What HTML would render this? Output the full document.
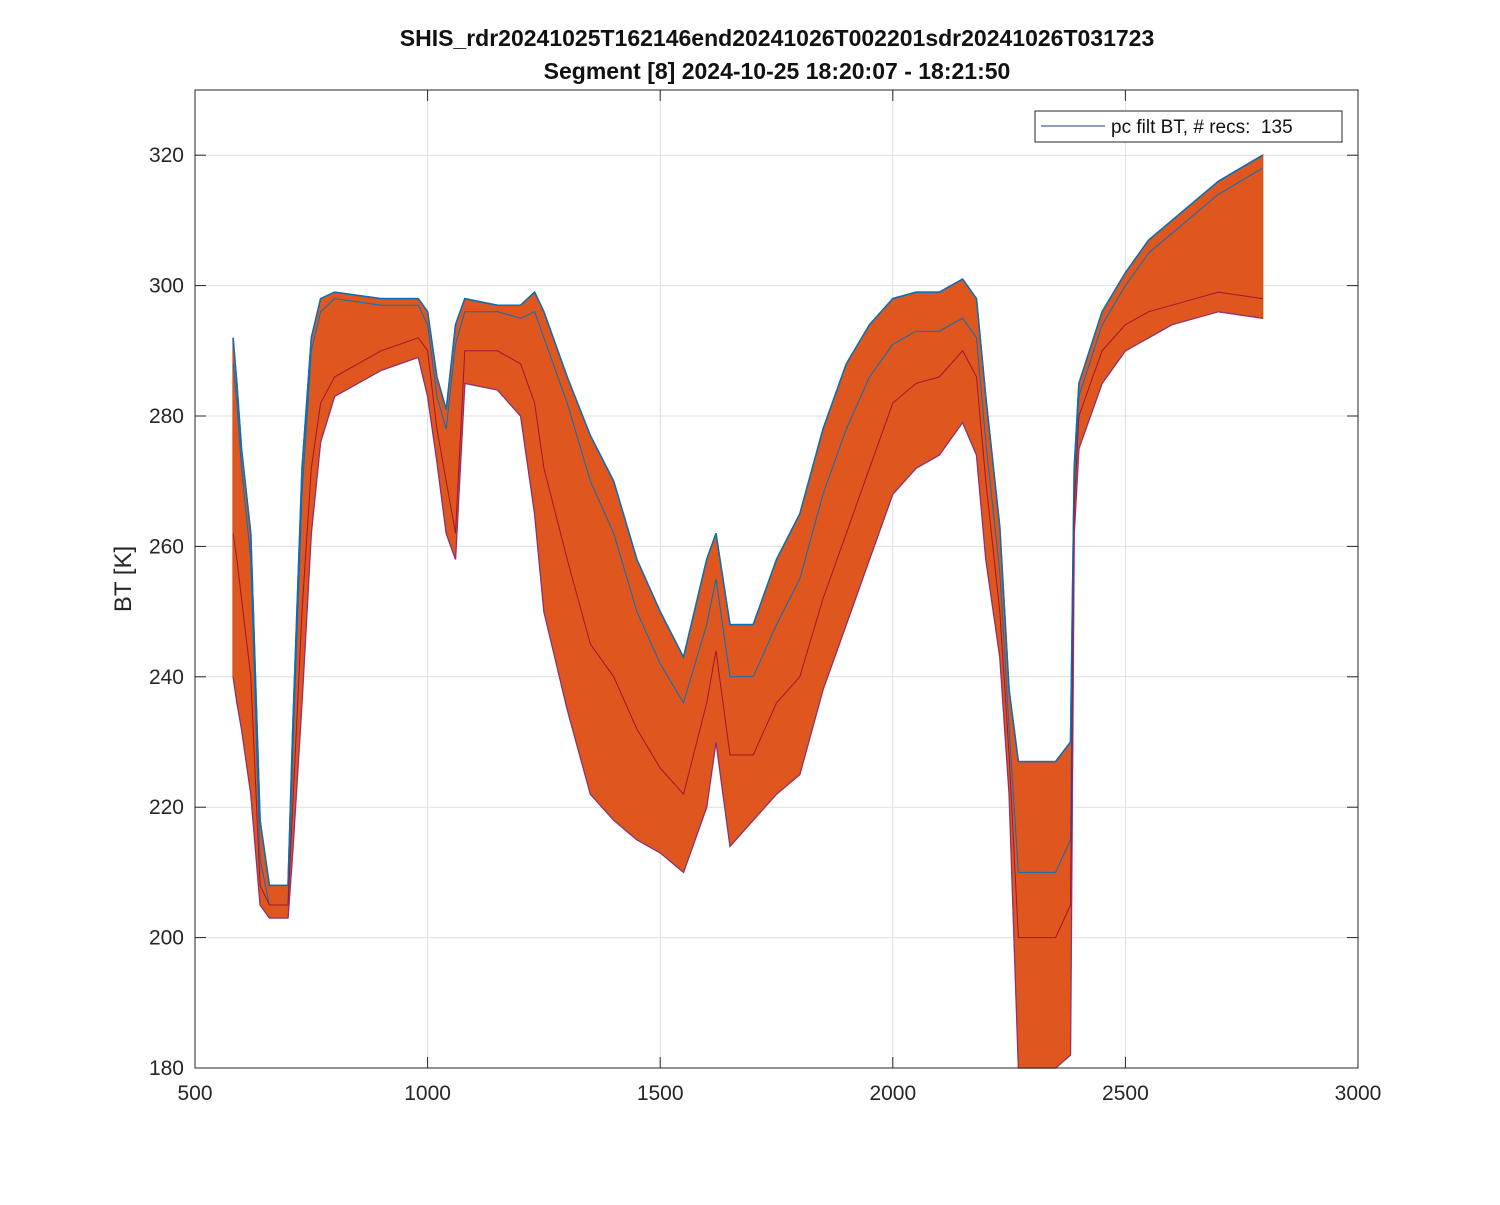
<!DOCTYPE html>
<html><head><meta charset="utf-8">
<style>
body{margin:0;background:#fff;width:1500px;height:1200px;overflow:hidden;font-family:"Liberation Sans",Arial,sans-serif}
svg text{font-family:"Liberation Sans",Arial,sans-serif}
</style></head>
<body>
<svg id="chart" width="1500" height="1200" xmlns="http://www.w3.org/2000/svg">
<rect width="1500" height="1200" fill="#fff"/>
<text x="777" y="46" text-anchor="middle" font-size="23" font-weight="bold" fill="#111">SHIS_rdr20241025T162146end20241026T002201sdr20241026T031723</text>
<text x="777" y="79" text-anchor="middle" font-size="23" font-weight="bold" fill="#111">Segment [8] 2024-10-25 18:20:07 - 18:21:50</text>
<g id="grid"></g>
<g id="marks"></g>
<rect x="195" y="90" width="1163" height="978" fill="none" stroke="#262626" stroke-width="1"/>
<g id="ticks"></g>
<text transform="translate(131,579) rotate(-90)" text-anchor="middle" font-size="24" fill="#262626">BT [K]</text>
<g>
<rect x="1035" y="111" width="307" height="31" fill="#fff" stroke="#262626" stroke-width="1"/>
<line x1="1041" y1="126" x2="1105" y2="126" stroke="#1f3a7a" stroke-width="1"/>
<text x="1111" y="133" font-size="19" fill="#111" xml:space="preserve">pc filt BT, # recs:  135</text>
</g>
</svg>
<script>
const xTicks=[500,1000,1500,2000,2500,3000];
const yTicks=[180,200,220,240,260,280,300,320];
const wavenumbers=[582,590,600,620,640,660,700,710,730,750,770,800,900,980,1000,1020,1040,1060,1080,1150,1200,1230,1250,1300,1350,1400,1450,1500,1550,1600,1620,1650,1700,1750,1800,1850,1900,1950,2000,2050,2100,2150,2180,2200,2230,2250,2270,2300,2350,2382,2390,2400,2450,2500,2550,2600,2700,2795];
const upperBT=[292,285,275,262,218,208,208,232,272,292,298,299,298,298,296,286,281,294,298,297,297,299,296,286,277,270,258,250,243,258,262,248,248,258,265,278,288,294,298,299,299,301,298,283,263,238,227,227,227,230,272,285,296,302,307,310,316,320];
const lowerBT=[240,236,232,222,205,203,203,213,236,262,276,283,287,289,283,273,262,258,285,284,280,265,250,235,222,218,215,213,210,220,230,214,218,222,225,238,248,258,268,272,274,279,274,258,243,222,180,180,180,182,262,275,285,290,292,294,296,295];
const blueBT=[288,282,272,258,212,205,205,228,268,290,296,298,297,297,294,283,278,291,296,296,295,296,292,282,270,262,250,242,236,248,255,240,240,248,255,268,278,286,291,293,293,295,292,276,256,232,210,210,210,215,270,283,294,300,305,308,314,318];
const redBT=[262,258,252,240,208,205,205,220,250,272,282,286,290,292,290,278,270,262,290,290,288,282,272,258,245,240,232,226,222,236,244,228,228,236,240,252,262,272,282,285,286,290,286,270,250,228,200,200,200,205,266,280,290,294,296,297,299,298];
const X=v=>195+(v-500)*(1163/2500);
const Y=v=>1068-(v-180)*(978/150);
const NS='http://www.w3.org/2000/svg';
const grid=document.getElementById('grid'),ticks=document.getElementById('ticks'),marks=document.getElementById('marks');
function mk(tag,attrs,parent){const e=document.createElementNS(NS,tag);for(const k in attrs)e.setAttribute(k,attrs[k]);parent.appendChild(e);return e;}
xTicks.forEach(t=>{
 const gl=mk('line',{x1:X(t),x2:X(t),y1:90,y2:1068,stroke:'#dfdfdf','stroke-width':1},grid);
 
 
 mk('line',{x1:X(t),x2:X(t),y1:1068,y2:1057,stroke:'#262626'},ticks);
 mk('line',{x1:X(t),x2:X(t),y1:90,y2:101,stroke:'#262626'},ticks);
 const tx=mk('text',{x:X(t),y:1100,'text-anchor':'middle','font-size':21,fill:'#262626'},ticks);
 tx.textContent=t;
 
 
});
yTicks.forEach(t=>{
 const gl=mk('line',{x1:195,x2:1358,y1:Y(t),y2:Y(t),stroke:'#dfdfdf','stroke-width':1},grid);
 
 
 mk('line',{x1:195,x2:206,y1:Y(t),y2:Y(t),stroke:'#262626'},ticks);
 mk('line',{x1:1358,x2:1347,y1:Y(t),y2:Y(t),stroke:'#262626'},ticks);
 const tx=mk('text',{x:184,y:Y(t)+7,'text-anchor':'end','font-size':21,fill:'#262626'},ticks);
 tx.textContent=t;
 
 
});
let d='';
wavenumbers.forEach((w,i)=>{d+=(i?'L':'M')+X(w).toFixed(1)+','+Y(upperBT[i]).toFixed(1);});
for(let i=wavenumbers.length-1;i>=0;i--)d+='L'+X(wavenumbers[i]).toFixed(1)+','+Y(lowerBT[i]).toFixed(1);
const band=mk('path',{d:d+'Z',fill:'#e0561f',stroke:'#d95319','stroke-width':1.5},marks);


function line(arr,color,w,name){
 let p='';wavenumbers.forEach((v,i)=>{p+=(i?'L':'M')+X(v).toFixed(1)+','+Y(arr[i]).toFixed(1);});
 const e=mk('path',{d:p,fill:'none',stroke:color,'stroke-width':w},marks);
 
 
}
line(blueBT,'#0072bd',1,'blue-series-line');
line(upperBT,'#0072bd',1.5,'upper-series-line');
line(redBT,'#a2142f',1,'crimson-series-line');
line(lowerBT,'#7e2f8e',1,'purple-series-line');
</script>
</body></html>
